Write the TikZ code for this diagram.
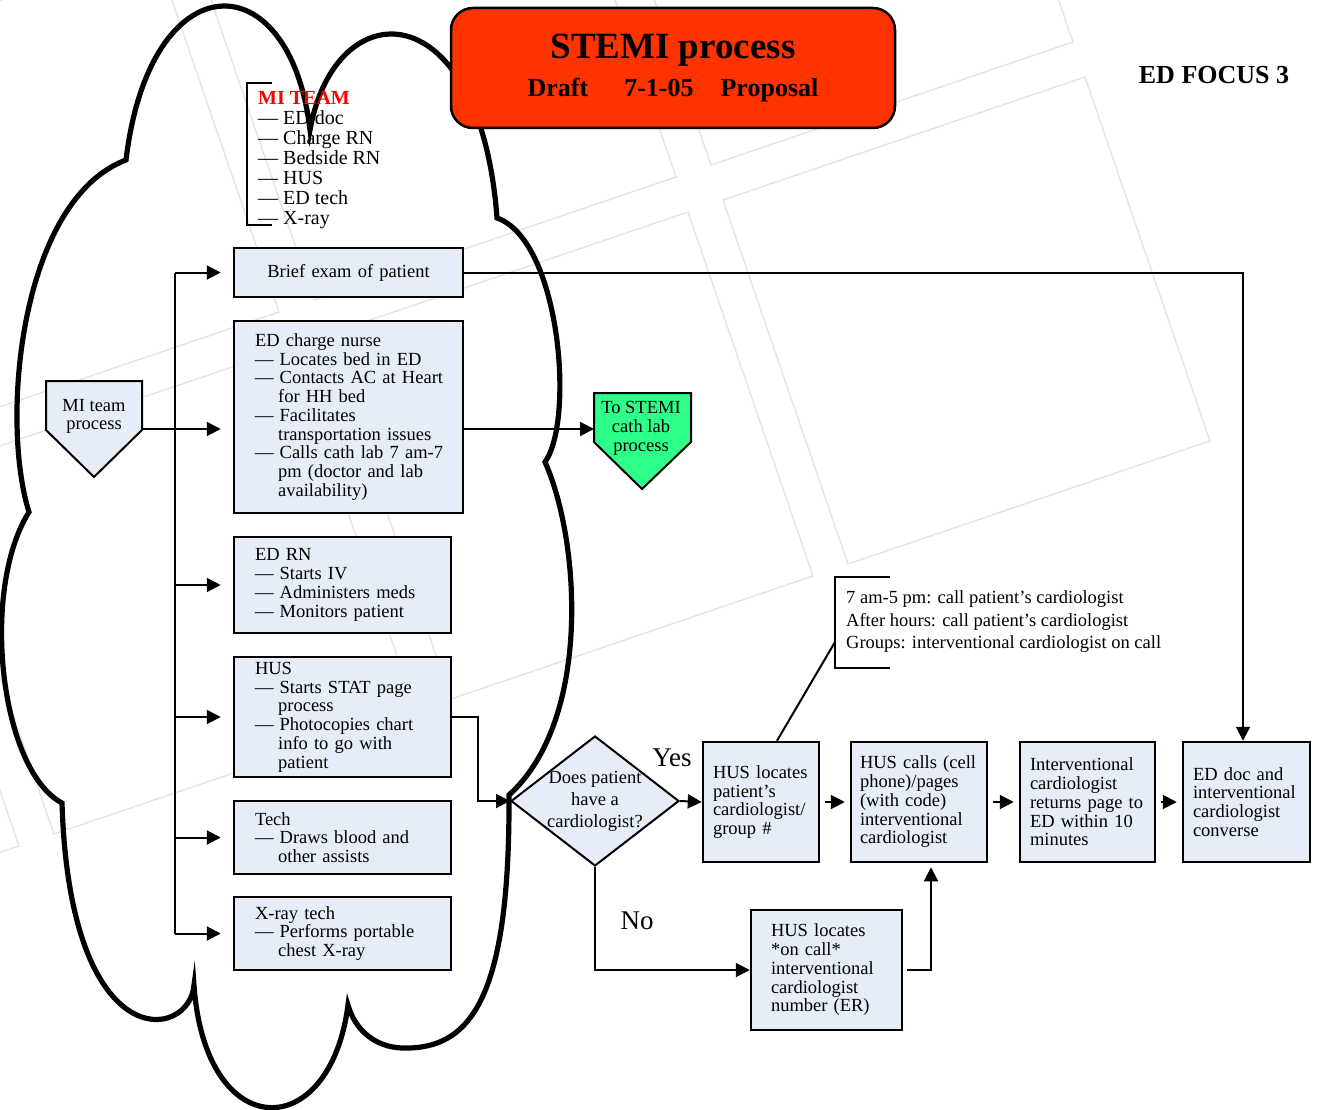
\documentclass[tikz,border=0pt]{standalone}
\usepackage{fontspec}
\setmainfont{Liberation Serif}
\usetikzlibrary{arrows.meta,shapes.geometric}

\definecolor{boxfill}{RGB}{230,236,248}
\definecolor{titlered}{RGB}{255,51,0}
\definecolor{cathgreen}{RGB}{46,255,136}
\definecolor{tilegray}{RGB}{228,228,228}

\newcommand{\hd}[1]{\leftskip=12pt\noindent#1\par}
\newcommand{\itm}[1]{\par\hangindent=1.25em\hangafter=1\noindent---~#1\par}

\tikzset{
  txt/.style={font=\fontsize{18.5}{18.75}\selectfont, inner sep=0pt},
  box/.style={txt, draw, line width=2.5pt, fill=boxfill, align=left, inner ysep=0pt},
  lbox/.style={box, inner xsep=9pt},
  rbox/.style={box, inner xsep=10pt, minimum height=120pt},
  ask/.style={txt, diamond, draw, line width=2pt, fill=boxfill, minimum width=168pt, minimum height=130pt, aspect=1.29, inner sep=-2pt, align=center, font=\fontsize{18.5}{22}\selectfont},
  pent/.style={draw, line width=2pt},
  line/.style={line width=2pt},
  arr/.style={line, -{Triangle[length=14pt,width=14pt]}},
  brk/.style={line width=2.5pt},
  cloud/.style={line width=5.2pt},
  tile/.style={draw=tilegray, line width=1.5pt},
  titlebox/.style={draw, line width=2.5pt, fill=titlered, rounded corners=22pt, minimum width=444pt, minimum height=120pt, align=center, font=\fontsize{26}{38}\selectfont\bfseries},
  answer/.style={font=\fontsize{27}{30}\selectfont, inner sep=0pt}
}

\begin{document}
\begin{tikzpicture}[x=1pt,y=-1pt]
\useasboundingbox (0,0) rectangle (1319,1110);

% faint tiles in the back
\begin{scope}
\clip (0,0) rectangle (1319,1110);
\foreach \x/\y in {723/200,586/-199,326/335,189/-64,-71/470,-208/71,-468/605}
  \draw[tile] (\x,\y) -- ++(362,-123) -- ++(125,364) -- ++(-362,123) -- cycle;
\end{scope}

% team cloud
\draw[cloud] (126,160) .. controls (150,-40) and (290,-40) .. (310,130)
  .. controls (335,-10) and (480,-10) .. (497,218)
  .. controls (560,240) and (575,420) .. (545,462)
  .. controls (580,540) and (592,720) .. (509,795)
  .. controls (510,1000) and (470,1050) .. (402,1048)
  .. controls (375,1047) and (355,1030) .. (348,1005)
  .. controls (330,1145) and (205,1145) .. (194,985)
  .. controls (190,1040) and (70,1060) .. (62,803)
  .. controls (0,770) and (-20,590) .. (29,512)
  .. controls (0,420) and (20,200) .. cycle;

% title
\node[titlebox] (title) at (673,68) {{\fontsize{37}{38}\selectfont STEMI process}\\Draft\hspace{36pt}7-1-05\hspace{27pt}Proposal};
\node[font=\fontsize{26}{30}\selectfont\bfseries] (focus) at (1214,75) {ED FOCUS 3};

% MI team list
\node[txt, anchor=west, align=left, font=\fontsize{20}{20}\selectfont] (team) at (258,160) {\textcolor{red}{\bfseries MI TEAM}\\--- ED doc\\--- Charge RN\\--- Bedside RN\\--- HUS\\--- ED tech\\--- X-ray};
\draw[brk] (272,83) -- (247,83) -- (247,225) -- (272,225);

% left column
\node[box, inner xsep=21pt, align=center, text width=187pt, minimum height=49pt] (brief) at (348.5,272.5) {Brief exam of patient};
\node[lbox, text width=211pt, minimum height=192pt] (charge) at (348.5,417) {\hd{ED charge nurse}\itm{Locates bed in ED}\itm{Contacts AC at Heart\newline for HH bed}\itm{Facilitates\newline transportation issues}\itm{Calls cath lab 7 am-7\newline pm (doctor and lab\newline availability)}};
\node[lbox, text width=199pt, minimum height=96pt] (edrn) at (342.5,585) {\hd{ED RN}\itm{Starts IV}\itm{Administers meds}\itm{Monitors patient}};
\node[lbox, text width=199pt, minimum height=120pt] (hus) at (342.5,717) {\hd{HUS}\itm{Starts STAT page\newline process}\itm{Photocopies chart\newline info to go with\newline patient}};
\node[lbox, text width=199pt, minimum height=73pt] (tech) at (342.5,837.5) {\hd{Tech}\itm{Draws blood and\newline other assists}};
\node[lbox, text width=199pt, minimum height=73pt] (xray) at (342.5,933.5) {\hd{X-ray tech}\itm{Performs portable\newline chest X-ray}};

% trunk
\coordinate (trunk) at (175,272.5);
\draw[line] (trunk) -- (trunk |- xray.west);
\foreach \n in {brief,edrn,hus,tech,xray}
  \draw[arr, shorten >=12pt] (trunk |- \n.west) -- (\n.west);

% MI team process
\filldraw[pent, fill=boxfill] (46,381) -- (142,381) -- (142,430) -- (94,477) -- (46,430) -- cycle;
\node[txt, align=center, font=\fontsize{18.5}{18}\selectfont] (mi) at (94,416) {MI team\\process};
\coordinate (mi-out) at (142,429);
\draw[arr, shorten >=12pt] (mi-out) -- (mi-out -| charge.west);

% cath lab
\filldraw[pent, fill=cathgreen] (594,393) -- (691,393) -- (691,442) -- (642,489) -- (594,442) -- cycle;
\node[txt, align=center, font=\fontsize{18.5}{19}\selectfont] (cath) at (641,428) {To STEMI\\cath lab\\process};
\coordinate (cath-in) at (594,429);
\draw[arr] (charge.east |- cath-in) -- (cath-in);

% decision
\node[ask] (ask) at (595,801) {Does patient\\have a\\cardiologist?};
\draw[arr] (hus.east) -- ++(26,0) |- (ask.west);
\node[answer] (yes) at (672,758) {Yes};
\node[answer] (no) at (637,921) {No};

% right row
\node[rbox, text width=96pt] (locate) at (761,802) {HUS locates\\patient's\\cardiologist/\\group \#};
\node[rbox, inner xsep=9pt, text width=118pt] (calls) at (919,802) {HUS calls (cell\\phone)/pages\\(with code)\\interventional\\cardiologist};
\node[rbox, text width=115pt] (returns) at (1087.5,802) {Interventional\\cardiologist\\returns page to\\ED within 10\\minutes};
\node[rbox, text width=107pt] (ed) at (1246.5,802) {ED doc and\\interventional\\cardiologist\\converse};
\node[rbox, inner xsep=20pt, text width=111pt] (oncall) at (826.5,970) {HUS locates\\{}*on call*\\interventional\\cardiologist\\number (ER)};

\draw[arr] (ask.east) -- (locate.west);
\draw[arr, shorten <=5pt, shorten >=5pt] (locate.east) -- (calls.west);
\draw[arr, shorten <=5pt, shorten >=5pt] (calls.east) -- (returns.west);
\draw[arr, shorten <=5pt, shorten >=5pt] (returns.east) -- (ed.west);
\draw[arr] (ask.south) |- (oncall.west);
\draw[arr, shorten <=4pt, shorten >=4pt] (oncall.east) -| ([xshift=12pt]calls.south);
\draw[arr] (brief.east) -| ([xshift=-3.5pt]ed.north);

% note on calls
\node[txt, anchor=west, align=left, font=\fontsize{18.5}{22.5}\selectfont] (note) at (846,622) {7 am-5 pm: call patient's cardiologist\\After hours: call patient's cardiologist\\Groups: interventional cardiologist on call};
\draw[brk] (890,577) -- (835,577) -- (835,668) -- (890,668);
\coordinate (brk) at (835,642);
\draw[line] (brk) -- ([xshift=16pt]locate.north);

\end{tikzpicture}
\end{document}
